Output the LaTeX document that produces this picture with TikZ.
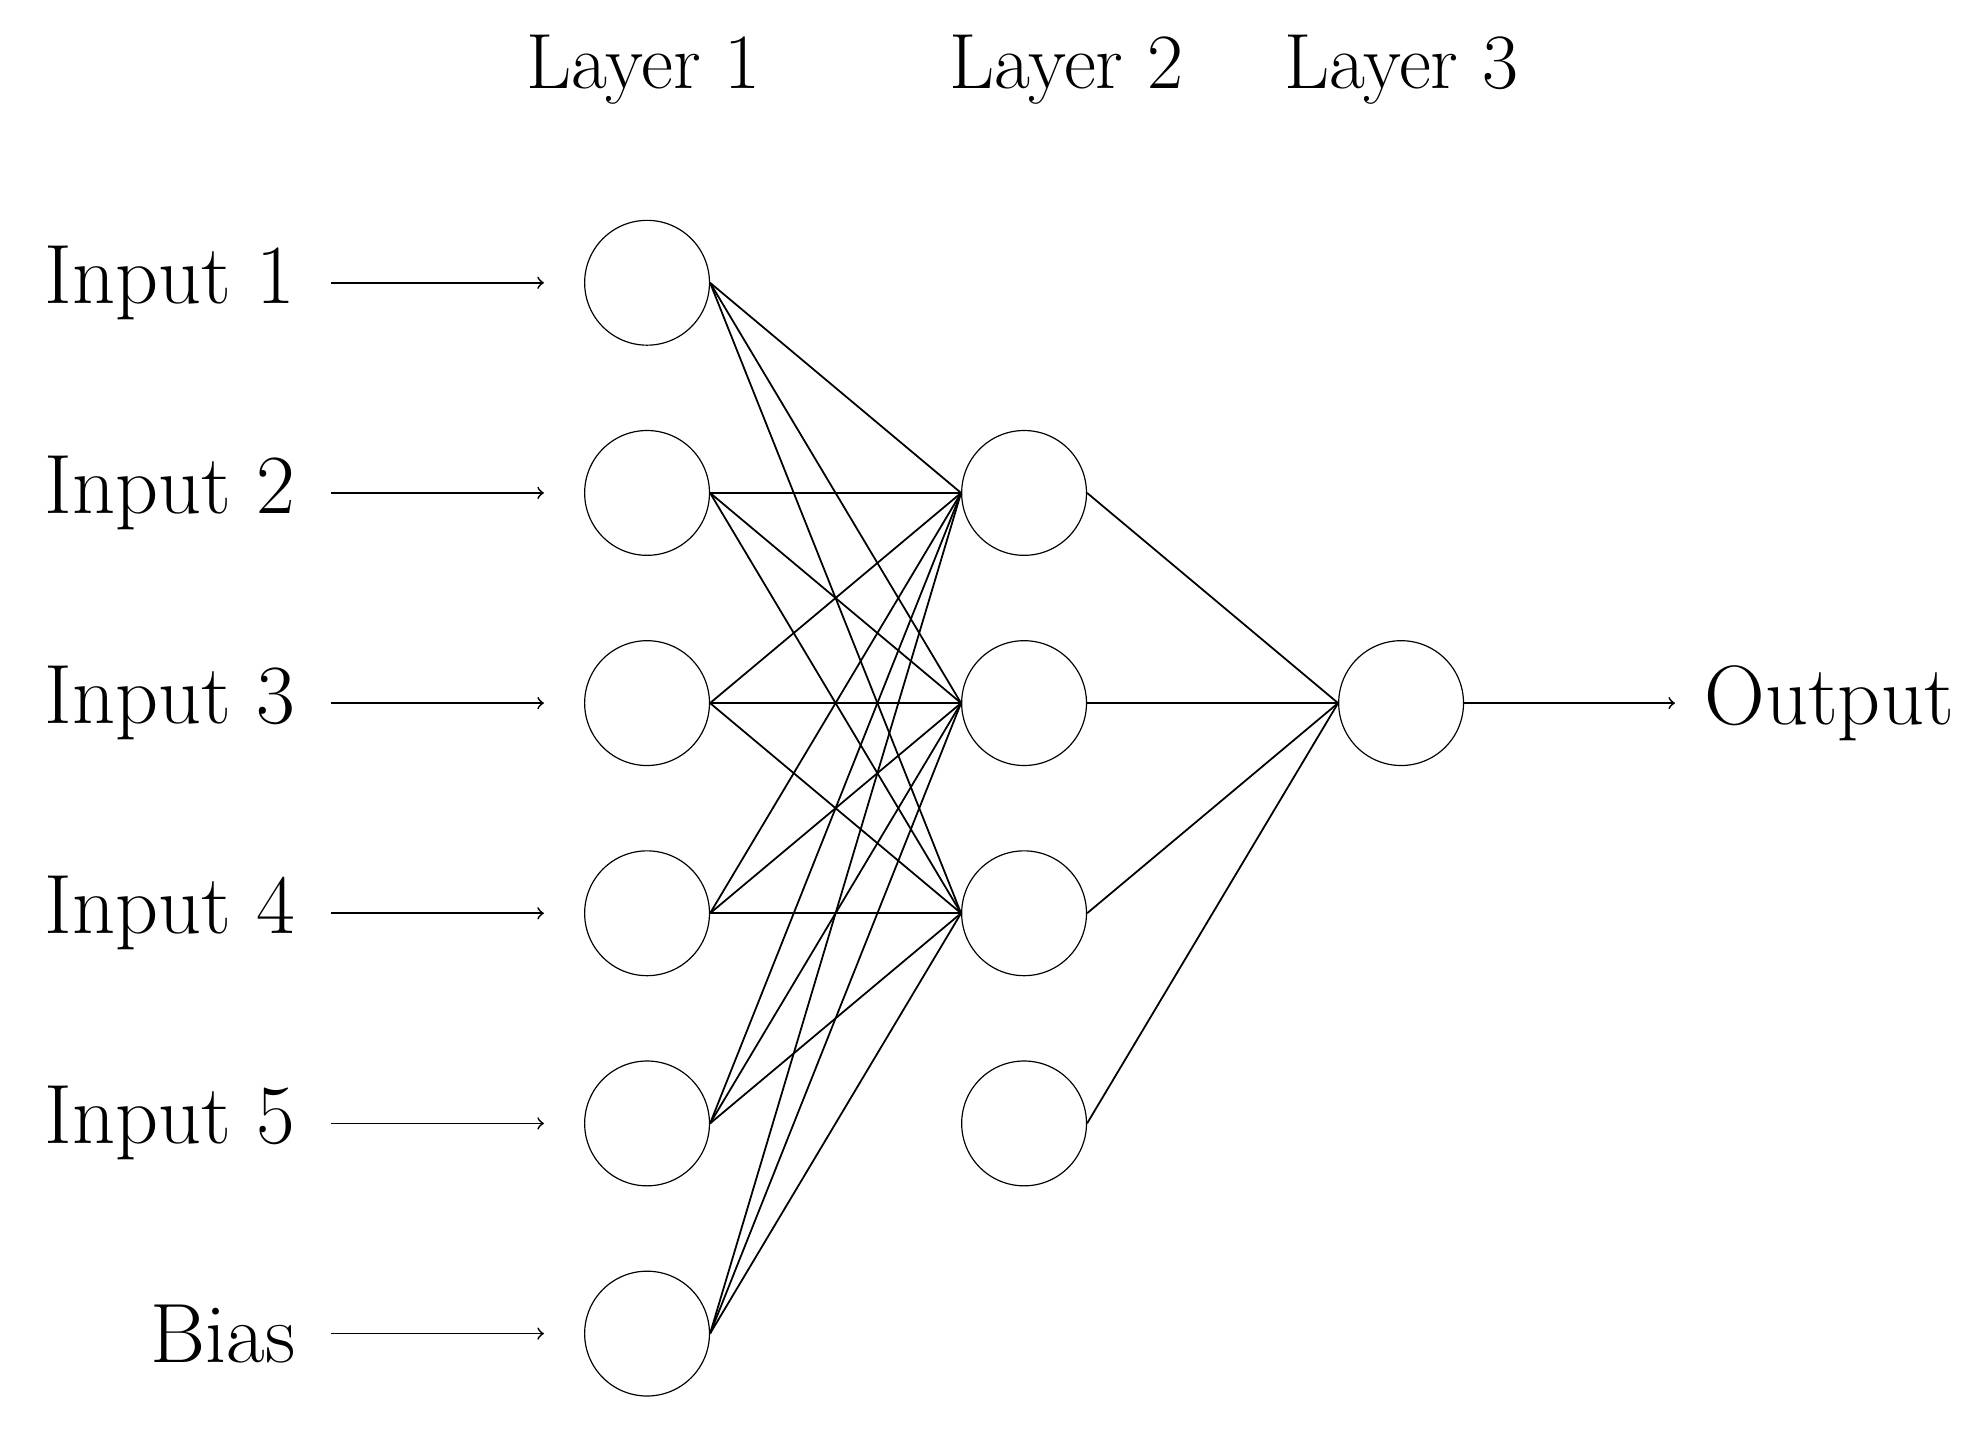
\documentclass[tikz,border=0pt]{standalone}
\begin{document}
\begin{tikzpicture}[x=0.01515cm,y=-0.01515cm,
  neuron/.style={circle,draw,inner sep=0pt,minimum size=1.485cm},
  lab/.style={font=\fontsize{28.5}{33}\selectfont},
  hdr/.style={font=\fontsize{26.5}{31}\selectfont},
  edge/.style={line width=0.6pt},
  arr/.style={->,line width=0.6pt}]
\useasboundingbox (0,0) rectangle (1560,1125);
\foreach \i/\t in {1/Input 1,2/Input 2,3/Input 3,4/Input 4,5/Input 5,6/Bias}{
  \node[neuron] (I\i) at (508,{222+165*(\i-1)}) {};
  \node[lab,anchor=east] (L\i) at (240,{222+165*(\i-1)}) {\t};
  \coordinate (s\i) at (260,{222+165*(\i-1)});
  \coordinate (e\i) at (427,{222+165*(\i-1)});
  \draw[arr] (s\i) -- (e\i);
}
\foreach \j in {1,...,4}{ \node[neuron] (H\j) at (804,{387+165*(\j-1)}) {}; }
\node[neuron] (O) at (1100,552) {};
\node[lab,anchor=west] (out) at (1330,552) {Output};
\coordinate (oe) at (1315,552);
\draw[arr] (O) -- (oe);
\foreach \i in {1,...,6}{\foreach \j in {1,2,3}{ \draw[edge] (I\i.east) -- (H\j.west); }}
\foreach \j in {1,...,4}{ \draw[edge] (H\j.east) -- (O.west); }
\node[hdr] at (505,55) {Layer 1};
\node[hdr] at (837,55) {Layer 2};
\node[hdr] at (1100,55) {Layer 3};
\end{tikzpicture}
\end{document}
